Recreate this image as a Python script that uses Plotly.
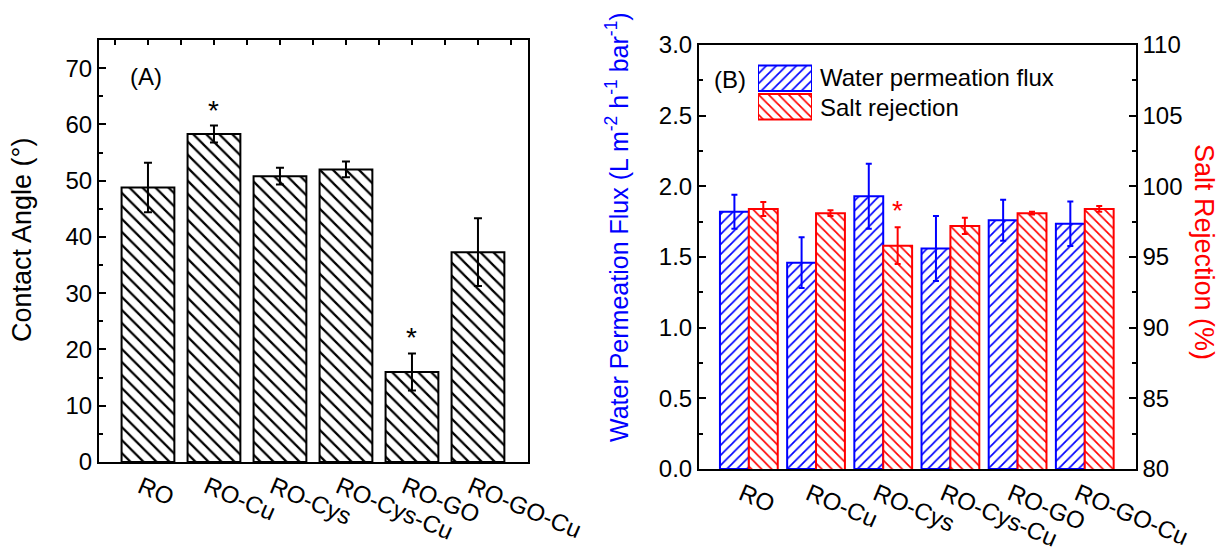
import plotly.graph_objects as go

# ---- data -------------------------------------------------------------
membranes = ["RO", "RO-Cu", "RO-Cys", "RO-Cys-Cu", "RO-GO", "RO-GO-Cu"]

contact_angle = [48.8, 58.3, 50.8, 52.0, 16.0, 37.3]
contact_angle_err = [4.4, 1.5, 1.5, 1.4, 3.3, 6.0]
contact_angle_sig = [False, True, False, False, True, False]

water_flux = [1.82, 1.46, 1.93, 1.56, 1.76, 1.735]
water_flux_err = [0.12, 0.18, 0.23, 0.23, 0.145, 0.157]

salt_rejection = [98.4, 98.1, 95.8, 97.2, 98.1, 98.4]
salt_rejection_err = [0.5, 0.2, 1.3, 0.58, 0.1, 0.2]
salt_rejection_sig = [False, False, True, False, False, False]

legend_labels = ["Water permeation flux", "Salt rejection"]

# ---- styling ----------------------------------------------------------
FONT = "Arial, 'Liberation Sans', sans-serif"
BLUE = "#0000FF"
RED = "#FF0000"
W, H = 1225, 550


def px_x(p):
    return p / W


def px_y(p):
    return 1 - p / H


def hatch(shape, color, size, solidity):
    return dict(shape=shape, fgcolor=color, bgcolor="white", size=size,
                solidity=solidity, fgopacity=1)


fig = go.Figure()

# Panel A: contact angle
fig.add_trace(go.Bar(
    x=membranes, y=contact_angle, width=0.8,
    marker=dict(color="white", line=dict(color="black", width=2),
                pattern=hatch("\\", "black", 9.2, 0.24)),
    error_y=dict(type="data", array=contact_angle_err, color="black",
                 thickness=2, width=4),
    xaxis="x", yaxis="y", showlegend=False,
))

# Panel B: flux (left axis) and salt rejection (right axis)
fig.add_trace(go.Bar(
    x=membranes, y=water_flux, width=0.43, offset=-0.43,
    name=legend_labels[0],
    marker=dict(color="white", line=dict(color=BLUE, width=2),
                pattern=hatch("/", BLUE, 7.1, 0.24)),
    error_y=dict(type="data", array=water_flux_err, color=BLUE,
                 thickness=2, width=3),
    xaxis="x2", yaxis="y2", showlegend=False,
))
fig.add_trace(go.Bar(
    x=membranes, y=salt_rejection, width=0.43, offset=0.0,
    name=legend_labels[1],
    marker=dict(color="white", line=dict(color=RED, width=2),
                pattern=hatch("\\", RED, 7.1, 0.24)),
    error_y=dict(type="data", array=salt_rejection_err, color=RED,
                 thickness=2, width=3),
    xaxis="x2", yaxis="y3", showlegend=False,
))

# Legend swatches drawn as bars on a small dedicated axis pair
fig.add_trace(go.Bar(
    y=[1], x=[1], orientation="h", width=0.9, cliponaxis=False,
    marker=dict(color="white", line=dict(color=BLUE, width=2),
                pattern=hatch("/", BLUE, 7.1, 0.24)),
    xaxis="x4", yaxis="y4", showlegend=False, hoverinfo="skip",
))
fig.add_trace(go.Bar(
    y=[0], x=[1], orientation="h", width=0.9, cliponaxis=False,
    marker=dict(color="white", line=dict(color=RED, width=2),
                pattern=hatch("\\", RED, 7.1, 0.24)),
    xaxis="x4", yaxis="y4", showlegend=False, hoverinfo="skip",
))

# ---- axes -------------------------------------------------------------
tickfont = dict(family=FONT, size=24, color="black")
xa_dom = [px_x(99), px_x(528)]
ya_dom = [px_y(462), px_y(40)]
xb_dom = [px_x(699), px_x(1135.7)]
yb_dom = [px_y(469), px_y(45)]
cat_range = [-0.742, 5.758]
minor_y = dict(ticks="inside", ticklen=4, tickwidth=2, tickcolor="black")
cat_axis = dict(type="category", range=cat_range, showline=True,
                linecolor="black", linewidth=2, mirror=True, ticks="",
                showgrid=False, zeroline=False, tickangle=23,
                tickfont=tickfont, ticklabelshift=-7, automargin=False)

fig.update_layout(
    template="none",
    width=W, height=H,
    margin=dict(l=0, r=0, t=0, b=0, pad=0),
    paper_bgcolor="white", plot_bgcolor="white",
    barmode="overlay",
    font=dict(family=FONT, color="black"),
    xaxis=dict(domain=xa_dom, anchor="y", **cat_axis),
    yaxis=dict(domain=ya_dom, anchor="x", range=[0, 75],
               showline=True, linecolor="black", linewidth=2, mirror=True,
               ticks="inside", ticklen=7, tickwidth=2, tickcolor="black",
               dtick=10, showgrid=False, zeroline=False, tickfont=tickfont,
               minor=dict(dtick=5, **minor_y), automargin=False),
    xaxis3=dict(overlaying="x", anchor="y", side="top", range=cat_range,
                showline=False, ticks="inside", ticklen=5, tickwidth=2,
                tickcolor="black", dtick=1, tick0=0, showticklabels=False,
                showgrid=False, zeroline=False, automargin=False,
                minor=dict(ticks="inside", dtick=0.5, tick0=0.5, ticklen=5,
                           tickwidth=2, tickcolor="black")),
    xaxis2=dict(domain=xb_dom, anchor="y2", **cat_axis),
    yaxis2=dict(domain=yb_dom, anchor="x2", range=[0, 3],
                showline=True, linecolor="black", linewidth=2,
                ticks="inside", ticklen=7, tickwidth=2, tickcolor="black",
                dtick=0.5, tickformat=".1f", showgrid=False, zeroline=False,
                tickfont=tickfont, minor=dict(dtick=0.25, **minor_y),
                automargin=False),
    yaxis3=dict(overlaying="y2", anchor="x2", side="right", range=[80, 110],
                showline=True, linecolor="black", linewidth=2,
                ticks="inside", ticklen=7, tickwidth=2, tickcolor="black",
                dtick=5, showgrid=False, zeroline=False, tickfont=tickfont,
                minor=dict(dtick=2.5, **minor_y), automargin=False),
    xaxis4=dict(domain=[px_x(758), px_x(812)], anchor="y4", range=[0, 1],
                visible=False, fixedrange=True, automargin=False),
    yaxis4=dict(domain=[px_y(121), px_y(64)], anchor="x4",
                range=[-0.5, 1.5], visible=False, fixedrange=True,
                automargin=False),
)

# ---- annotations ------------------------------------------------------
ann = []
for i, (v, e, s) in enumerate(zip(contact_angle, contact_angle_err,
                                  contact_angle_sig)):
    if s:
        ann.append(dict(x=i, y=v + e, xref="x3", yref="y", text="*",
                        showarrow=False, xanchor="center", yanchor="bottom",
                        yshift=-2,
                        font=dict(family=FONT, size=28, color="black")))
for i, (v, e, s) in enumerate(zip(salt_rejection, salt_rejection_err,
                                  salt_rejection_sig)):
    if s:
        ann.append(dict(x=membranes[i], y=v + e, xref="x2", yref="y3",
                        xshift=0.215 * 67.3, text="*", showarrow=False,
                        xanchor="center", yanchor="bottom", yshift=-1,
                        font=dict(family=FONT, size=28, color=RED)))


def label(x, y, text, size, color="black", angle=0, xanchor="center"):
    return dict(x=px_x(x), y=px_y(y), xref="paper", yref="paper",
                text=text, textangle=angle, showarrow=False,
                xanchor=xanchor, yanchor="middle",
                font=dict(family=FONT, size=size, color=color))


ann += [
    label(146, 76, "(A)", 24),
    label(730, 79, "(B)", 24),
    label(818, 77, legend_labels[0], 24, xanchor="left"),
    label(818, 107, legend_labels[1], 24, xanchor="left"),
    label(22, 240, "Contact Angle (°)", 27, angle=-90),
    label(617, 227,
          "Water Permeation Flux (L m<sup>-2</sup> h<sup>-1</sup> bar<sup>-1</sup>)",
          25, color=BLUE, angle=-90),
    label(1204, 252, "Salt Rejection (%)", 27, color=RED, angle=90),
]
fig.update_layout(annotations=ann)

fig.write_html("out.html")
